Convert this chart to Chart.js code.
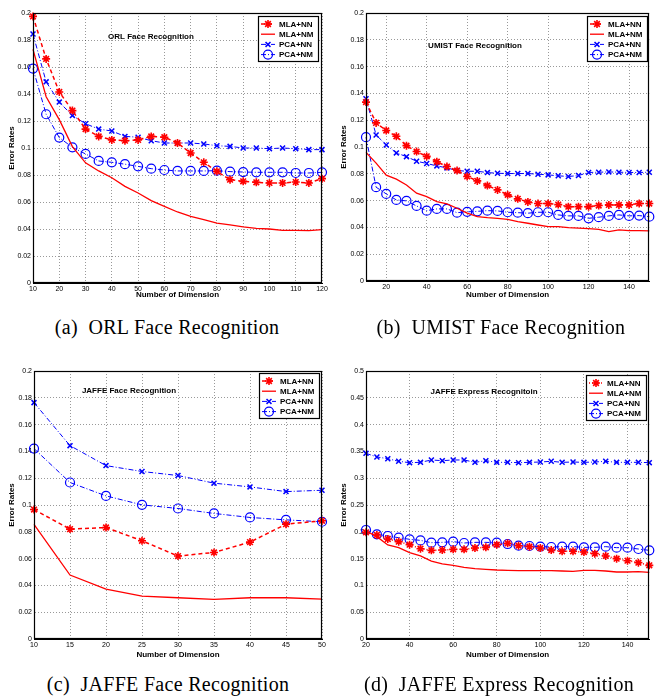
<!DOCTYPE html>
<html>
<head>
<meta charset="utf-8">
<script src="https://cdn.jsdelivr.net/npm/chart.js@4"></script>
<style>
body { margin: 0; width: 655px; height: 696px; overflow: hidden; background: #fff; position: relative; }
canvas { position: absolute; }
.cap { position: absolute; font-family: "Liberation Serif", serif; font-size: 20px; letter-spacing: 0.3px; white-space: pre; transform: translate(-50%, -50%); color: #000; }
</style>
</head>
<body>
<canvas id="orl" width="330" height="300" style="left:0;top:0"></canvas>
<canvas id="umist" width="330" height="300" style="left:325px;top:0"></canvas>
<canvas id="jface" width="330" height="320" style="left:0;top:340px"></canvas>
<canvas id="jexp" width="330" height="320" style="left:325px;top:340px"></canvas>
<div class="cap" style="left:167px;top:327px">(a)  ORL Face Recognition</div>
<div class="cap" style="left:501px;top:327px">(b)  UMIST Face Recognition</div>
<div class="cap" style="left:168px;top:684px">(c)  JAFFE Face Recognition</div>
<div class="cap" style="left:499px;top:684px">(d)  JAFFE Express Recognition</div>
<script>
// ORL
const dimsORL = [10,15,20,25,30,35,40,45,50,55,60,65,70,75,80,85,90,95,100,105,110,115,120];
const orlMlaNN = [0.1975,0.166,0.1415,0.1277,0.114,0.1086,0.106,0.1054,0.106,0.1086,0.108,0.1037,0.0963,0.0894,0.0827,0.0765,0.0753,0.0746,0.0741,0.0741,0.0748,0.0741,0.0773];
const orlMlaNM = [0.173,0.138,0.121,0.101,0.089,0.083,0.078,0.0716,0.0667,0.061,0.0568,0.0526,0.0494,0.0469,0.0444,0.043,0.0415,0.0405,0.04,0.039,0.039,0.0388,0.0395];
const orlPcaNN = [0.1844,0.149,0.134,0.124,0.118,0.114,0.1126,0.1086,0.108,0.1054,0.1037,0.1037,0.1037,0.103,0.1017,0.1012,0.1,0.1,0.0995,0.1,0.0995,0.0988,0.0988];
const orlPcaNM = [0.1588,0.125,0.1077,0.1005,0.0956,0.0904,0.0894,0.088,0.0864,0.0847,0.0837,0.083,0.083,0.083,0.0832,0.0825,0.0822,0.082,0.082,0.082,0.0815,0.0815,0.082];

// UMIST
const dimsUM = [10,15,20,25,30,35,40,45,50,55,60,65,70,75,80,85,90,95,100,105,110,115,120,125,130,135,140,145,150];
const umMlaNN = [0.1335,0.118,0.1123,0.108,0.101,0.0966,0.093,0.089,0.0854,0.0824,0.078,0.0747,0.0712,0.068,0.0643,0.0613,0.059,0.0578,0.0578,0.057,0.0555,0.0555,0.0555,0.0563,0.0568,0.0568,0.0568,0.0578,0.0578];
const umMlaNM = [0.096,0.088,0.079,0.076,0.0717,0.0655,0.063,0.0593,0.0575,0.0543,0.0506,0.048,0.0473,0.0468,0.046,0.0443,0.0431,0.0418,0.0406,0.0406,0.0398,0.0394,0.0391,0.0386,0.0369,0.0381,0.0376,0.0376,0.0374];
const umPcaNN = [0.136,0.109,0.1015,0.0956,0.0928,0.0894,0.0877,0.0859,0.0844,0.0824,0.0819,0.0819,0.0809,0.0804,0.0802,0.0802,0.0802,0.0797,0.0792,0.0785,0.078,0.0787,0.081,0.0812,0.0814,0.0812,0.081,0.081,0.0812];
const umPcaNM = [0.1073,0.07,0.065,0.0605,0.0598,0.056,0.0525,0.0538,0.0538,0.051,0.0516,0.052,0.0525,0.0523,0.0513,0.051,0.0506,0.0513,0.0513,0.0493,0.0486,0.0486,0.0468,0.0476,0.0486,0.0493,0.0486,0.0488,0.048];

// JAFFE face
const dimsJF = [10,15,20,25,30,35,40,45,50];
const jfMlaNN = [0.0966,0.082,0.0832,0.0733,0.0619,0.0646,0.0723,0.0857,0.0882];
const jfMlaNM = [0.0855,0.0477,0.0373,0.032,0.0308,0.0296,0.0308,0.0308,0.0298];
const jfPcaNN = [0.1764,0.1443,0.1294,0.125,0.122,0.1163,0.1135,0.11,0.111];
const jfPcaNM = [0.1421,0.1168,0.1068,0.1001,0.0974,0.0937,0.0907,0.0889,0.0875];

// JAFFE expression
const dimsJE = [20,25,30,35,40,45,50,55,60,65,70,75,80,85,90,95,100,105,110,115,120,125,130,135,140,145,150];
const jeMlaNN = [0.199,0.194,0.1866,0.1816,0.176,0.1685,0.1654,0.166,0.1673,0.1673,0.1698,0.171,0.176,0.1785,0.1741,0.1723,0.1698,0.166,0.1636,0.1636,0.1623,0.1592,0.1549,0.1499,0.1461,0.1424,0.1374];
const jeMlaNM = [0.2015,0.191,0.1754,0.1704,0.161,0.1549,0.1455,0.14,0.1374,0.1337,0.1312,0.13,0.1287,0.1281,0.1275,0.1275,0.1275,0.1275,0.1269,0.1262,0.1281,0.1281,0.1269,0.125,0.125,0.1256,0.1244];
const jePcaNN = [0.3464,0.3396,0.3364,0.3315,0.329,0.3296,0.334,0.3327,0.334,0.334,0.3296,0.3327,0.3296,0.3296,0.329,0.3296,0.3302,0.3315,0.3296,0.3302,0.3296,0.3302,0.3315,0.3296,0.3296,0.3296,0.329];
const jePcaNM = [0.2034,0.1953,0.1922,0.189,0.186,0.184,0.1797,0.1803,0.1816,0.1791,0.1803,0.1803,0.1797,0.1772,0.1741,0.1735,0.1723,0.1716,0.1723,0.1723,0.171,0.171,0.1723,0.1704,0.1704,0.1679,0.1654];

// tick labels
const xTicksORL = [10,20,30,40,50,60,70,80,90,100,110,120];
const xTicksUM = [20,40,60,80,100,120,140];
const xTicksJF = [10,15,20,25,30,35,40,45,50];
const xTicksJE = [20,40,60,80,100,120,140];
const yTicks02 = [0,0.02,0.04,0.06,0.08,0.1,0.12,0.14,0.16,0.18,0.2];
const yTicks05 = [0,0.05,0.1,0.15,0.2,0.25,0.3,0.35,0.4,0.45,0.5];

const legendLabels = ['MLA+NN','MLA+NM','PCA+NN','PCA+NM'];

const RED = '#ff0000', BLUE = '#0000ff';
const dashDot = [5,2,1,2];

function styles(nnDash) {
    return [
        {color: RED, width: 1.5, dash: nnDash, point: 'star', radius: 4, pw: 1.6},
        {color: RED, width: 1.3, dash: [], point: 'circle', radius: 0, pw: 0},
        {color: BLUE, width: 1, dash: dashDot, point: 'crossRot', radius: 3.5, pw: 1.5},
        {color: BLUE, width: 1, dash: dashDot, point: 'circle', radius: 4.5, pw: 1.2}
    ];
}

// draws the box, the title inside the plot and the legend
const framePlugin = {
    id: 'frame',
    afterDraw(chart, args, o) {
        const ctx = chart.ctx, a = chart.chartArea;
        ctx.save();
        ctx.setLineDash([]);
        ctx.strokeStyle = '#000';
        ctx.lineWidth = 1.2;
        ctx.strokeRect(Math.round(a.left) + 0.5, Math.round(a.top) + 0.5, Math.round(a.right - a.left) - 1, Math.round(a.bottom - a.top) - 1);

        ctx.fillStyle = '#000';
        ctx.font = 'bold 8px "Liberation Sans"';
        ctx.textAlign = 'center';
        ctx.textBaseline = 'middle';
        ctx.fillText(o.title, a.left + o.tx, a.top + o.ty);

        const w = 60, h = 45;
        const bx = Math.round(a.right - o.legRight - w), by = Math.round(a.top + o.legTop);
        ctx.fillStyle = '#fff';
        ctx.fillRect(bx, by, w, h);
        ctx.lineWidth = 1.2;
        ctx.strokeRect(bx + 0.5, by + 0.5, w, h);

        chart.data.datasets.forEach((ds, i) => {
            const y = by + 8 + i * 10.2;
            ctx.save();
            ctx.strokeStyle = ds.borderColor;
            ctx.lineWidth = ds.borderWidth;
            ctx.setLineDash(ds.borderDash || []);
            ctx.beginPath();
            ctx.moveTo(bx + 3, y);
            ctx.lineTo(bx + 17, y);
            ctx.stroke();
            ctx.restore();
            if (ds.pointRadius > 0 && Chart.helpers && Chart.helpers.drawPoint) {
                ctx.save();
                ctx.setLineDash([]);
                ctx.strokeStyle = ds.borderColor;
                ctx.fillStyle = 'rgba(0,0,0,0)';
                ctx.lineWidth = ds.pointBorderWidth;
                Chart.helpers.drawPoint(ctx, {pointStyle: ds.pointStyle, radius: ds.pointRadius, rotation: 0, borderWidth: ds.pointBorderWidth}, bx + 10, y);
                ctx.restore();
            }
            ctx.fillStyle = '#000';
            ctx.font = 'bold 8px "Liberation Sans"';
            ctx.textAlign = 'left';
            ctx.fillText(ds.label, bx + 21, y + 0.5);
        });
        ctx.restore();
    }
};

function makeChart(id, p) {
    const st = styles(p.nnDash);
    const datasets = p.series.map((vals, i) => ({
        label: legendLabels[i],
        data: p.dims.map((d, j) => ({x: d, y: vals[j]})),
        borderColor: st[i].color,
        borderWidth: st[i].width,
        borderDash: st[i].dash,
        pointStyle: st[i].point,
        pointRadius: st[i].radius,
        pointBorderWidth: st[i].pw,
        pointBorderColor: st[i].color,
        pointBackgroundColor: 'rgba(0,0,0,0)',
        tension: 0,
        fill: false,
        clip: false
    }));
    const tickFont = {family: 'Liberation Sans', size: 7};
    const titleFont = {family: 'Liberation Sans', size: 8, weight: 'bold'};
    const grid = {color: 'rgba(0,0,0,0.4)', drawTicks: false};
    const border = {display: true, color: '#000', width: 1, dash: [1, 2]};
    new Chart(document.getElementById(id), {
        type: 'line',
        data: {datasets},
        plugins: [framePlugin],
        options: {
            responsive: false,
            animation: false,
            events: [],
            layout: {padding: {top: p.top, right: p.right, left: 0, bottom: 0}},
            plugins: {
                legend: {display: false},
                tooltip: {enabled: false},
                frame: {title: p.title, tx: p.tx, ty: p.ty, legRight: p.legRight, legTop: p.legTop}
            },
            scales: {
                x: {
                    type: 'linear', min: p.xMin, max: p.xMax,
                    afterBuildTicks: s => { s.ticks = p.xTicks.map(v => ({value: v})); },
                    afterFit: s => { s.height = p.xh; },
                    ticks: {font: tickFont, color: '#000', padding: 2, maxRotation: 0, autoSkip: false},
                    grid, border,
                    title: {display: true, text: 'Number of Dimension', font: titleFont, color: '#000', padding: 0}
                },
                y: {
                    type: 'linear', min: 0, max: p.yMax,
                    afterBuildTicks: s => { s.ticks = p.yTicks.map(v => ({value: v})); },
                    afterFit: s => { s.width = p.yw; },
                    ticks: {font: tickFont, color: '#000', padding: 2, autoSkip: false, callback: v => String(+v.toFixed(2))},
                    grid, border,
                    title: {display: true, text: 'Error Rates', font: titleFont, color: '#000', padding: {top: p.yTitlePad, bottom: 0}}
                }
            }
        }
    });
}

makeChart('orl', {
    dims: dimsORL, series: [orlMlaNN, orlMlaNM, orlPcaNN, orlPcaNM],
    xMin: 10, xMax: 120, xTicks: xTicksORL, yMax: 0.2, yTicks: yTicks02,
    title: 'ORL Face Recognition', nnDash: [4, 3],
    top: 13, right: 8, yw: 33, xh: 17, yTitlePad: 7, tx: 118, ty: 24, legRight: 4, legTop: 3
});
makeChart('umist', {
    dims: dimsUM, series: [umMlaNN, umMlaNM, umPcaNN, umPcaNM],
    xMin: 10, xMax: 150, xTicks: xTicksUM, yMax: 0.2, yTicks: yTicks02,
    title: 'UMIST Face Recognition', nnDash: [4, 3],
    top: 13, right: 0, yw: 41, xh: 19, yTitlePad: 14, tx: 109, ty: 33, legRight: 2, legTop: 3
});
makeChart('jface', {
    dims: dimsJF, series: [jfMlaNN, jfMlaNM, jfPcaNN, jfPcaNM],
    xMin: 10, xMax: 50, xTicks: xTicksJF, yMax: 0.2, yTicks: yTicks02,
    title: 'JAFFE Face Recognition', nnDash: [4, 3],
    top: 31, right: 8, yw: 34, xh: 21, yTitlePad: 7, tx: 95, ty: 20, legRight: 3, legTop: 2
});
makeChart('jexp', {
    dims: dimsJE, series: [jeMlaNN, jeMlaNM, jePcaNN, jePcaNM],
    xMin: 20, xMax: 150, xTicks: xTicksJE, yMax: 0.5, yTicks: yTicks05,
    title: 'JAFFE Express Recognitoin', nnDash: [1, 2],
    top: 31, right: 0, yw: 41, xh: 21, yTitlePad: 14, tx: 118, ty: 21, legRight: 3, legTop: 4
});
</script>
</body>
</html>
